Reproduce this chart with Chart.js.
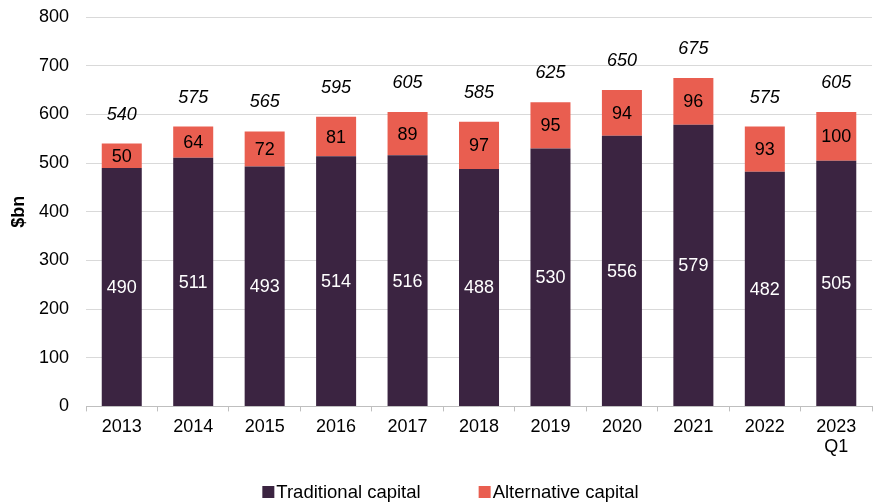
<!DOCTYPE html>
<html>
<head>
<meta charset="utf-8">
<script src="https://cdn.jsdelivr.net/npm/chart.js@4/dist/chart.umd.min.js"></script>
<style>
html,body{margin:0;padding:0;background:#fff;}
#wrap{width:875px;height:504px;}
</style>
</head>
<body>
<div id="wrap"><canvas id="c" width="875" height="504"></canvas></div>
<script>
const categories = ['2013','2014','2015','2016','2017','2018','2019','2020','2021','2022',['2023','Q1']];
const traditional = [490,511,493,514,516,488,530,556,579,482,505];
const alternative = [50,64,72,81,89,97,95,94,96,93,100];
const totals = [540,575,565,595,605,585,625,650,675,575,605];
const yTicks = [0,100,200,300,400,500,600,700,800];
const seriesNames = ['Traditional capital','Alternative capital'];
const seriesColors = ['#3B2441','#E95E50'];

const FONT = '"Liberation Sans", Arial, sans-serif';

const labelPlugin = {
  id: 'labels',
  afterDatasetsDraw(chart) {
    const ctx = chart.ctx;
    ctx.save();
    ctx.textAlign = 'center';
    ctx.textBaseline = 'middle';
    const m0 = chart.getDatasetMeta(0), m1 = chart.getDatasetMeta(1);
    m0.data.forEach((el, i) => {
      ctx.font = '18px ' + FONT;
      ctx.fillStyle = '#ffffff';
      ctx.fillText(String(traditional[i]), el.x, (el.y + el.base) / 2 + 1);
      const e1 = m1.data[i];
      ctx.fillStyle = '#000000';
      ctx.fillText(String(alternative[i]), e1.x, (e1.y + e1.base) / 2 + 1);
      ctx.font = 'italic 18px ' + FONT;
      ctx.fillText(String(totals[i]), e1.x, chart.scales.y.getPixelForValue(totals[i]) - 29);
    });
    ctx.restore();
  }
};

const legendPlugin = {
  id: 'customLegend',
  afterDraw(chart) {
    const ctx = chart.ctx;
    ctx.save();
    ctx.font = '18.5px ' + FONT;
    ctx.textBaseline = 'middle';
    ctx.textAlign = 'left';
    const box = 12, gapText = 2, gapItem = 58;
    const widths = seriesNames.map(n => box + gapText + ctx.measureText(n).width);
    const total = widths[0] + gapItem + widths[1];
    let x = (chart.width - total) / 2 + 13;
    const yc = 492;
    seriesNames.forEach((n, i) => {
      ctx.fillStyle = seriesColors[i];
      ctx.fillRect(x, yc - 6, box, box);
      ctx.fillStyle = '#000';
      ctx.fillText(n, x + box + gapText, yc + 1);
      x += widths[i] + gapItem;
    });
    ctx.restore();
  }
};

new Chart(document.getElementById('c'), {
  type: 'bar',
  data: {
    labels: categories,
    datasets: [
      { label: seriesNames[0], data: traditional, backgroundColor: seriesColors[0], borderWidth: 0 },
      { label: seriesNames[1], data: alternative, backgroundColor: seriesColors[1], borderWidth: 0 }
    ]
  },
  options: {
    responsive: false,
    animation: false,
    devicePixelRatio: 1,
    layout: { padding: { left: 10, right: 3, top: 0, bottom: 41 } },
    datasets: { bar: { barPercentage: 0.56, categoryPercentage: 1.0 } },
    scales: {
      x: {
        stacked: true,
        grid: { display: true, offset: true, drawOnChartArea: false, drawTicks: true, tickLength: 5, color: '#bfbfbf' },
        border: { display: true, color: '#bfbfbf', width: 1 },
        ticks: { color: '#000', font: { size: 18, family: FONT, lineHeight: 1.1 }, padding: 6, maxRotation: 0 }
      },
      y: {
        stacked: true,
        min: 0, max: 800,
        afterBuildTicks(axis) { axis.ticks = yTicks.map(v => ({ value: v })); },
        grid: { color: '#d9d9d9', drawTicks: false, lineWidth: 1 },
        border: { display: false },
        ticks: { color: '#000', font: { size: 18, family: FONT, lineHeight: 0.01 }, padding: 17 },
        title: { display: true, text: '$bn', color: '#000', font: { size: 18, weight: 'bold', family: FONT, lineHeight: 1.0 }, padding: { top: 0, bottom: -6 } }
      }
    },
    plugins: {
      legend: { display: false },
      tooltip: { enabled: false }
    }
  },
  plugins: [labelPlugin, legendPlugin]
});
</script>
</body>
</html>
